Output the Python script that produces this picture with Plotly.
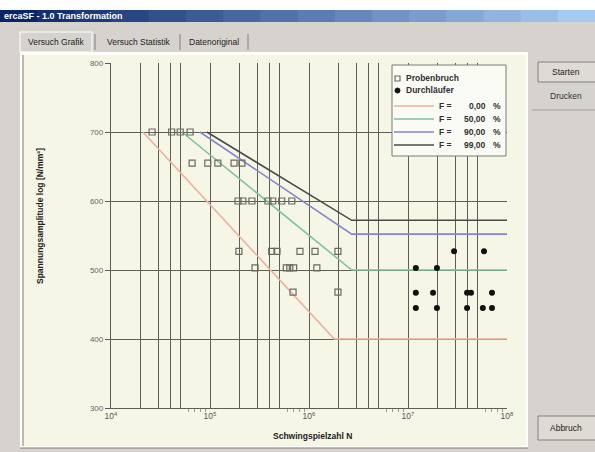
import plotly.graph_objects as go

# ---------------- data ----------------
break_N = [2.6e4, 4.1e4, 5.0e4, 6.3e4,
           6.6e4, 9.5e4, 1.2e5, 1.75e5, 2.1e5,
           1.92e5, 2.15e5, 2.65e5, 3.85e5, 4.3e5, 5.3e5, 6.7e5,
           1.96e5, 4.2e5, 4.75e5, 8.1e5, 1.15e6, 1.96e6,
           2.85e5, 5.9e5, 6.4e5, 7.0e5, 1.2e6,
           6.9e5, 1.96e6]
break_S = [700, 700, 700, 700,
           655, 655, 655, 655, 655,
           600, 600, 600, 600, 600, 600, 600,
           527, 527, 527, 527, 527, 527,
           503, 503, 503, 503, 503,
           468, 468]

runout_N = [2.92e7, 5.86e7,
            1.2e7, 1.96e7,
            1.2e7, 1.79e7, 3.95e7, 4.33e7, 7.05e7,
            1.2e7, 1.96e7, 3.95e7, 5.7e7, 7.05e7]
runout_S = [527, 527,
            503, 503,
            467, 467, 467, 467, 467,
            445, 445, 445, 445, 445]

curve_labels = ["0,00", "50,00", "90,00", "99,00"]
curve_colors = ["#eeb09c", "#7cc49c", "#8484d2", "#4a4a4a"]
curve_N = [[2.1e4, 1.8e6, 1e8],
           [5.2e4, 2.7e6, 1e8],
           [7.9e4, 2.7e6, 1e8],
           [9.3e4, 2.7e6, 1e8]]
curve_S = [[700, 400, 400],
           [700, 500, 500],
           [700, 552, 552],
           [700, 572, 572]]

decades = [4, 5, 6, 7, 8]
y_ticks = [300, 400, 500, 600, 700, 800]

# ---------------- layout helpers ----------------
W, H = 595, 452
L, R, T, B = 111, 507, 63, 408
def px(x): return (x - L) / (R - L)
def py(y): return (B - y) / (B - T)

GRAY = "#d6d3ce"
CREAM = "#f6f6e7"
GRID = "#5e5e56"
FONT = "Liberation Sans"

fig = go.Figure()

for lab, col, n, s in zip(curve_labels, curve_colors, curve_N, curve_S):
    fig.add_trace(go.Scatter(x=n, y=s, mode="lines", line=dict(color=col, width=1.6),
                             name="F = " + lab + " %", showlegend=False))

fig.add_trace(go.Scatter(x=break_N, y=break_S, mode="markers", name="Probenbruch",
                         marker=dict(symbol="square-open", size=6, color="#6a6a62",
                                     line=dict(width=1.2)), showlegend=False))
fig.add_trace(go.Scatter(x=runout_N, y=runout_S, mode="markers", name="Durchläufer",
                         marker=dict(symbol="circle", size=6, color="#111111"),
                         showlegend=False))
# carrier for the secondary (minor-tick) axis
fig.add_trace(go.Scatter(x=runout_N, y=runout_S, mode="markers", xaxis="x2",
                         marker=dict(opacity=0), hoverinfo="skip", showlegend=False))

major = [10 ** d for d in decades]
major_txt = ["10<sup>%d</sup>" % d for d in decades]
grid_minor = [m * 10 ** d for d in decades[:-1] for m in [2, 3, 4, 5]]
tick_minor = [m * 10 ** d for d in decades[:-1] for m in [6, 7, 8, 9]]

shapes = []
ann = []

def rect(x0, y0, x1, y1, fill, line=None, lw=1):
    shapes.append(dict(type="rect", xref="paper", yref="paper", layer="below",
                       x0=px(x0), x1=px(x1), y0=py(y1), y1=py(y0),
                       fillcolor=fill, line=dict(color=line or fill, width=lw if line else 0)))

def hline(x0, x1, y, col, w=1, layer="below"):
    shapes.append(dict(type="line", xref="paper", yref="paper", layer=layer,
                       x0=px(x0), x1=px(x1), y0=py(y), y1=py(y), line=dict(color=col, width=w)))

def vline(x, y0, y1, col, w=1, layer="below"):
    shapes.append(dict(type="line", xref="paper", yref="paper", layer=layer,
                       x0=px(x), x1=px(x), y0=py(y0), y1=py(y1), line=dict(color=col, width=w)))

def text(x, y, s, size=9, col="#303030", xa="left", bold=False, angle=0):
    ann.append(dict(xref="paper", yref="paper", x=px(x), y=py(y), text=("<b>%s</b>" % s) if bold else s,
                    showarrow=False, xanchor=xa, yanchor="middle", textangle=angle,
                    font=dict(family=FONT, size=size, color=col)))

# window chrome
rect(0, 0, W, 10, "#ffffff")
steps = 16
for i in range(steps):
    t = i / (steps - 1)
    c = (int(10 + t * (166 - 10)), int(36 + t * (202 - 36)), int(106 + t * (240 - 106)))
    rect(i * W / steps, 10, (i + 1) * W / steps + 1, 22, "rgb(%d,%d,%d)" % c)
text(2, 16, "ercaSF - 1.0 Transformation", size=9, col="#ffffff", bold=True)

# tabs
rect(20, 32, 92, 52, GRAY, "#ffffff", 1)
text(56, 42, "Versuch Grafik", size=8.5, col="#222222", xa="center")
vline(95, 34, 50, "#808080")
text(139, 42, "Versuch Statistik", size=8.5, col="#222222", xa="center")
vline(180, 34, 50, "#808080")
text(214, 42, "Datenoriginal", size=8.5, col="#222222", xa="center")
vline(248, 34, 50, "#808080")

# panel
rect(20, 52, 528, 448, "#ffffff")
rect(23, 55, 526, 446, CREAM)
vline(23, 55, 446, "#7a7a72")
hline(20, 528, 448, "#7a7a72")

# right buttons
rect(538, 62, 596, 82, "#dedbd5", "#808080", 1)
text(566, 72, "Starten", size=8.5, col="#222222", xa="center")
text(566, 96, "Drucken", size=8.5, col="#333333", xa="center")
hline(532, 596, 110, "#a0a0a0")
rect(538, 416, 596, 440, "#dedbd5", "#808080", 1)
text(566, 428, "Abbruch", size=8.5, col="#222222", xa="center")

# legend (drawn manually for compact spacing)
shapes.append(dict(type="rect", xref="paper", yref="paper", layer="above",
                   x0=px(392), x1=px(506), y0=py(156), y1=py(65),
                   fillcolor="#fbfbf6", line=dict(color="#7a7a72", width=1)))
shapes.append(dict(type="rect", xref="paper", yref="paper", layer="above",
                   x0=px(395), x1=px(400), y0=py(81), y1=py(76),
                   fillcolor="rgba(0,0,0,0)", line=dict(color="#6a6a62", width=1.2)))
shapes.append(dict(type="circle", xref="paper", yref="paper", layer="above",
                   x0=px(395), x1=px(400), y0=py(93), y1=py(88),
                   fillcolor="#111111", line=dict(color="#111111", width=1)))
text(404, 78, "Probenbruch", size=8.5, bold=True)
text(404, 90, "Durchläufer", size=8.5, bold=True)
leg_y = [106, 119, 132, 145]
for yy, lab, col in zip(leg_y, curve_labels, curve_colors):
    hline(394, 434, yy, col, 1.6, layer="above")
    text(437, yy, "F =", size=8.5, bold=True)
    text(488, yy, lab, size=8.5, bold=True, xa="right")
    text(491, yy, "%", size=8.5, bold=True)

# axis titles
text(40, 216, "Spannungsamplitude log [N/mm²]", size=8.5, col="#222222", xa="center", bold=True, angle=-90)
text(312, 436, "Schwingspielzahl N", size=8.5, col="#222222", xa="center", bold=True)

fig.update_layout(
    width=W, height=H,
    margin=dict(l=L, r=W - R, t=T, b=H - B, pad=0),
    paper_bgcolor=GRAY, plot_bgcolor="rgba(0,0,0,0)",
    shapes=shapes, annotations=ann, showlegend=False,
    font=dict(family=FONT, size=8, color="#555555"),
    xaxis=dict(type="log", range=[4, 8], tickmode="array", tickvals=major, ticktext=major_txt,
               showgrid=True, gridcolor=GRID, gridwidth=1.3, ticks="", showline=True,
               linecolor=GRID, linewidth=1.3, zeroline=False,
               tickfont=dict(size=8.5, color="#555555"),
               minor=dict(tickmode="array", tickvals=grid_minor, ticks="",
                          showgrid=True, gridcolor=GRID, gridwidth=1.3)),
    xaxis2=dict(type="log", range=[4, 8], overlaying="x", anchor="y", side="bottom",
                tickmode="array", tickvals=tick_minor, ticks="outside", ticklen=3,
                tickcolor="#9a9a90", tickwidth=1, showticklabels=False,
                showgrid=False, showline=False, zeroline=False),
    yaxis=dict(range=[300, 800], tickmode="array", tickvals=y_ticks,
               showgrid=True, gridcolor=GRID, gridwidth=1.3, ticks="outside", ticklen=5,
               tickcolor=GRID, showline=True, linecolor=GRID, linewidth=1.3, zeroline=False,
               tickfont=dict(size=8, color="#666666")),
)

fig.write_html("out.html", config={"displayModeBar": False},
               post_script="document.body.style.margin='0px';document.body.style.overflow='hidden';")
